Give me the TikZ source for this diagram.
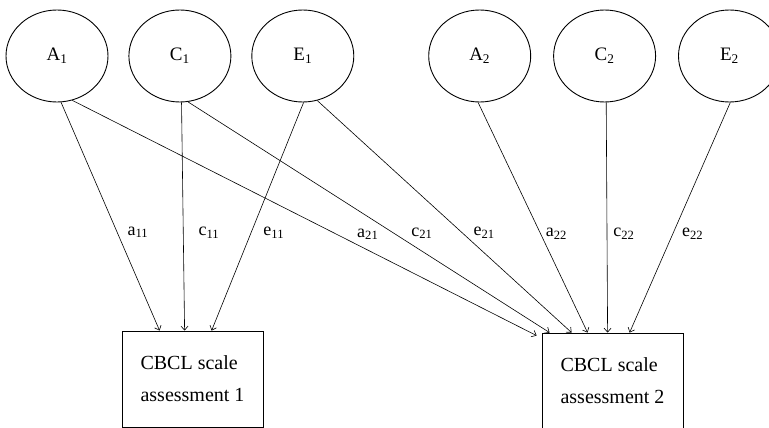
\documentclass[tikz,border=0pt]{standalone}
\usepackage{fontspec}
\setmainfont{Liberation Serif}
\usetikzlibrary{arrows.meta,positioning,shapes.geometric}
\tikzset{every node/.append style={align=center}}

\begin{document}
\begin{tikzpicture}[x=1pt, y=-1pt, node distance=20pt, >={Straight Barb[length=4pt,width=7pt]},
  latent/.style={draw, ellipse, line width=0.9pt, minimum width=102pt, minimum height=92pt, inner sep=0pt, font=\fontsize{19}{22}\selectfont},
  measure/.style={draw, rectangle, line width=0.8pt, minimum width=141pt, minimum height=96pt, inner sep=0pt, font=\fontsize{20}{32}\selectfont, align=left},
  load/.style={->, line width=0.6pt},
  coef/.style={pos=0.57, anchor=west, inner sep=0pt, font=\fontsize{18}{20}\selectfont}]
  \useasboundingbox (0,0) rectangle (769,428);
  \node[latent] (A1) at (57,56) {A\textsubscript{1}};
  \node[latent, right=20pt of A1] (C1) {C\textsubscript{1}};
  \node[latent, right=20pt of C1] (E1) {E\textsubscript{1}};
  \node[latent, right=74pt of E1] (A2) {A\textsubscript{2}};
  \node[latent, right=22pt of A2] (C2) {C\textsubscript{2}};
  \node[latent, right=22pt of C2] (E2) {E\textsubscript{2}};
  \node[measure] (cbcl1) at (192.5,379) {CBCL scale\\assessment 1};
  \node[measure] (cbcl2) at (612.5,381) {CBCL scale\\assessment 2};
  \draw[load] (A1.-85) -- ([xshift=38pt]cbcl1.north west) node[coef, xshift=10pt] {a\textsubscript{11}};
  \draw[load] (C1.-88) -- ([xshift=63pt]cbcl1.north west) node[coef, xshift=15pt] {c\textsubscript{11}};
  \draw[load] (E1.-89) -- ([xshift=90pt]cbcl1.north west) node[coef, xshift=12pt] {e\textsubscript{11}};
  \draw[load] (A1.-71) -- ([xshift=-5pt,yshift=-3pt]cbcl2.north west) node[coef, xshift=20pt] {a\textsubscript{21}};
  \draw[load] (C1.-80) -- ([xshift=8pt]cbcl2.north west) node[coef, xshift=17pt] {c\textsubscript{21}};
  \draw[load] (E1.-72) -- ([xshift=30pt]cbcl2.north west) node[coef, xshift=11pt] {e\textsubscript{21}};
  \draw[load] (A2.-92) -- ([xshift=46pt]cbcl2.north west) node[coef, xshift=5pt] {a\textsubscript{22}};
  \draw[load] (C2.-88) -- ([xshift=66pt]cbcl2.north west) node[coef, xshift=6pt] {c\textsubscript{22}};
  \draw[load] (E2.-89) -- ([xshift=88pt]cbcl2.north west) node[coef, xshift=9pt] {e\textsubscript{22}};
\end{tikzpicture}
\end{document}
